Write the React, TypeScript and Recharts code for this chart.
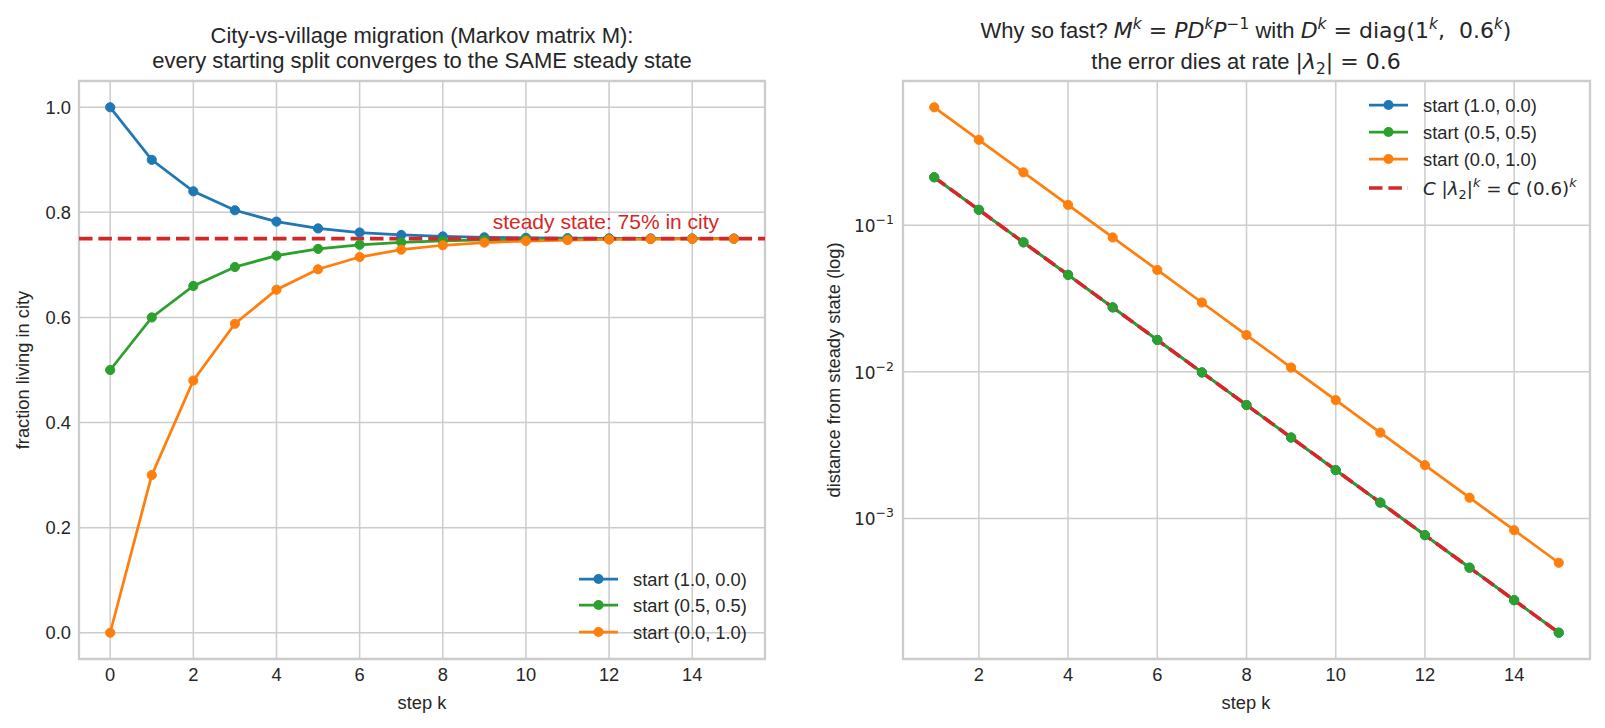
import React from "react";
import { LineChart, Line, XAxis, YAxis, CartesianGrid, ReferenceLine, ReferenceArea, ReferenceDot } from "recharts";

// step index k
const steps = [0, 1, 2, 3, 4, 5, 6, 7, 8, 9, 10, 11, 12, 13, 14, 15];

// share of population living in the city, per starting split
const fromCity = [1.0, 0.9, 0.84, 0.804, 0.7824, 0.76944, 0.761664, 0.756998, 0.754199, 0.752519, 0.751512, 0.750907, 0.750544, 0.750327, 0.750196, 0.750118];
const evenSplit = [0.5, 0.6, 0.66, 0.696, 0.7176, 0.73056, 0.738336, 0.743002, 0.745801, 0.747481, 0.748488, 0.749093, 0.749456, 0.749673, 0.749804, 0.749882];
const fromVillage = [0.0, 0.3, 0.48, 0.588, 0.6528, 0.69168, 0.715008, 0.729005, 0.737403, 0.742442, 0.745465, 0.747279, 0.748367, 0.74902, 0.749412, 0.749647];
const steadyShare = 0.75;

// distance from the steady state, k = 1..15
const errSteps = [1, 2, 3, 4, 5, 6, 7, 8, 9, 10, 11, 12, 13, 14, 15];
const errCity = [0.212132, 0.127279, 0.0763675, 0.0458205, 0.0274923, 0.0164954, 0.00989723, 0.00593834, 0.003563, 0.0021378, 0.00128268, 0.000769608, 0.000461765, 0.000277059, 0.000166235];
const errEven = [0.212132, 0.127279, 0.0763675, 0.0458205, 0.0274923, 0.0164954, 0.00989723, 0.00593834, 0.003563, 0.0021378, 0.00128268, 0.000769608, 0.000461765, 0.000277059, 0.000166235];
const errVillage = [0.636396, 0.381838, 0.229103, 0.137462, 0.082477, 0.0494862, 0.0296917, 0.017815, 0.010689, 0.0064134, 0.00384804, 0.00230882, 0.00138529, 0.000831177, 0.000498706];
const errRate = [0.212132, 0.127279, 0.0763675, 0.0458205, 0.0274923, 0.0164954, 0.00989723, 0.00593834, 0.003563, 0.0021378, 0.00128268, 0.000769608, 0.000461765, 0.000277059, 0.000166235];

const leftXTicks = [0, 2, 4, 6, 8, 10, 12, 14];
const leftYTicks = [0, 0.2, 0.4, 0.6, 0.8, 1.0];
const rightXTicks = [2, 4, 6, 8, 10, 12, 14];
const rightYTicks = [0.1, 0.01, 0.001];

const legendLabels = ["start (1.0, 0.0)", "start (0.5, 0.5)", "start (0.0, 1.0)"];

const BLUE = "#1f77b4";
const GREEN = "#2ca02c";
const ORANGE = "#ff7f0e";
const RED = "#d62728";
const GRID = "#cccccc";
const INK = "#262626";
const SANS = "'Liberation Sans', Arial, sans-serif";
const MATH = "'DejaVu Sans', sans-serif";
const FS = 18.3;

const leftData = steps.map((k, i) => ({ k, a: fromCity[i], b: evenSplit[i], c: fromVillage[i] }));
const rightData = errSteps.map((k, i) => ({ k, a: errCity[i], b: errEven[i], c: errVillage[i], r: errRate[i] }));

const tickStyle = { fill: INK, fontSize: FS, fontFamily: SANS };
const dotFor = (c: string) => ({ r: 4.6, fill: c, stroke: c, strokeWidth: 1 });

const PowTick = ({ x, y, payload }: any) => {
  const e = Math.round(Math.log10(payload.value));
  return (
    <text x={x} y={y + 7} textAnchor="end" fill={INK} fontFamily={MATH} fontSize={17}>
      <tspan>10</tspan>
      <tspan fontSize={12.5} dy={-8}>{"\u2212" + Math.abs(e)}</tspan>
    </text>
  );
};

const SteadyLabel = ({ viewBox }: any) => (
  <text x={viewBox.x} y={viewBox.y} fill={RED} fontSize={21} fontFamily={SANS}>
    steady state: 75% in city
  </text>
);

const LegendRow = ({ y, color, label, dashed }: { y: number; color: string; label: React.ReactNode; dashed?: boolean }) => (
  <g transform={`translate(0, ${y})`}>
    {dashed ? (
      <line x1={0} x2={39} y1={0} y2={0} stroke={color} strokeWidth={3.6} strokeDasharray="13.5 5.9" />
    ) : (
      <>
        <line x1={0} x2={39} y1={0} y2={0} stroke={color} strokeWidth={2.75} />
        <circle cx={19.5} cy={0} r={5} fill={color} />
      </>
    )}
    <text x={54} y={6.5} fill={INK} fontSize={FS} fontFamily={SANS}>
      {label}
    </text>
  </g>
);

const it = { fontFamily: MATH, fontStyle: "italic" } as const;
const up = { fontFamily: MATH, fontStyle: "normal" } as const;

const Annotations = () => (
  <svg width={1605} height={728} style={{ position: "absolute", left: 0, top: 0, pointerEvents: "none" }}>
    {/* left panel titles and labels */}
    <text x={422} y={42.5} textAnchor="middle" fill={INK} fontSize={22} fontFamily={SANS}>
      City-vs-village migration (Markov matrix M):
    </text>
    <text x={422} y={68} textAnchor="middle" fill={INK} fontSize={22} fontFamily={SANS}>
      every starting split converges to the SAME steady state
    </text>
    <text x={422} y={709} textAnchor="middle" fill={INK} fontSize={FS} fontFamily={SANS}>
      step k
    </text>
    <text x={28.5} y={370} textAnchor="middle" fill={INK} fontSize={FS} fontFamily={SANS} transform="rotate(-90 28.5 370)">
      fraction living in city
    </text>

    {/* right panel titles and labels */}
    <text x={1246} y={38} textAnchor="middle" fill={INK} fontSize={22} fontFamily={SANS} style={{ whiteSpace: "pre" }}>
      <tspan>Why so fast? </tspan>
      <tspan style={it}>M</tspan>
      <tspan style={it} fontSize={15.4} dy={-9}>k</tspan>
      <tspan style={up} dy={9}> = </tspan>
      <tspan style={it}>PD</tspan>
      <tspan style={it} fontSize={15.4} dy={-9}>k</tspan>
      <tspan style={it} dy={9}>P</tspan>
      <tspan style={up} fontSize={15.4} dy={-9}>{"\u22121"}</tspan>
      <tspan dy={9}> with </tspan>
      <tspan style={it}>D</tspan>
      <tspan style={it} fontSize={15.4} dy={-9}>k</tspan>
      <tspan style={up} dy={9}> = diag(1</tspan>
      <tspan style={it} fontSize={15.4} dy={-9}>k</tspan>
      <tspan style={up} dy={9}>,  0.6</tspan>
      <tspan style={it} fontSize={15.4} dy={-9}>k</tspan>
      <tspan style={up} dy={9}>)</tspan>
    </text>
    <text x={1246} y={69} textAnchor="middle" fill={INK} fontSize={22} fontFamily={SANS} style={{ whiteSpace: "pre" }}>
      <tspan>the error dies at rate </tspan>
      <tspan style={up}>|</tspan>
      <tspan style={it}>λ</tspan>
      <tspan style={up} fontSize={15.4} dy={5}>2</tspan>
      <tspan style={up} dy={-5}>| = 0.6</tspan>
    </text>
    <text x={1246} y={709} textAnchor="middle" fill={INK} fontSize={FS} fontFamily={SANS}>
      step k
    </text>
    <text x={840} y={370} textAnchor="middle" fill={INK} fontSize={FS} fontFamily={SANS} transform="rotate(-90 840 370)">
      distance from steady state (log)
    </text>

    {/* left legend */}
    <g transform="translate(579, 0)">
      <LegendRow y={579} color={BLUE} label={legendLabels[0]} />
      <LegendRow y={605} color={GREEN} label={legendLabels[1]} />
      <LegendRow y={632} color={ORANGE} label={legendLabels[2]} />
    </g>

    {/* right legend */}
    <g transform="translate(1369, 0)">
      <LegendRow y={105} color={BLUE} label={legendLabels[0]} />
      <LegendRow y={132} color={GREEN} label={legendLabels[1]} />
      <LegendRow y={159} color={ORANGE} label={legendLabels[2]} />
      <LegendRow
        y={188}
        color={RED}
        dashed
        label={
          <tspan style={{ whiteSpace: "pre" }}>
            <tspan style={it}>C </tspan>
            <tspan style={up}>|</tspan>
            <tspan style={it}>λ</tspan>
            <tspan style={up} fontSize={12.8} dy={4}>2</tspan>
            <tspan style={up} dy={-4}>|</tspan>
            <tspan style={it} fontSize={12.8} dy={-8}>k</tspan>
            <tspan style={up} dy={8}> = </tspan>
            <tspan style={it}>C </tspan>
            <tspan style={up}>(0.6)</tspan>
            <tspan style={it} fontSize={12.8} dy={-8}>k</tspan>
          </tspan>
        }
      />
    </g>
  </svg>
);

const App = () => (
  <div style={{ position: "absolute", left: 0, top: 0, width: 1605, height: 728, background: "#ffffff" }}>
    <div style={{ position: "absolute", left: 0, top: 0 }}>
      <LineChart width={790} height={728} data={leftData} margin={{ top: 81, right: 25, bottom: 0, left: 0 }}>
        <CartesianGrid stroke={GRID} strokeWidth={1.5} />
        <XAxis
          dataKey="k"
          type="number"
          domain={[-0.75, 15.75]}
          ticks={leftXTicks}
          allowDataOverflow
          height={69}
          tick={tickStyle}
          tickLine={false}
          axisLine={false}
          tickSize={0}
          tickMargin={9}
        />
        <YAxis
          type="number"
          domain={[-0.05, 1.05]}
          ticks={leftYTicks}
          allowDataOverflow
          width={79}
          tick={tickStyle}
          tickFormatter={(v: number) => v.toFixed(1)}
          tickLine={false}
          axisLine={false}
          tickSize={0}
          tickMargin={8}
        />
        <ReferenceArea x1={-0.75} x2={15.75} y1={-0.05} y2={1.05} fill="none" stroke={GRID} strokeWidth={2.3} ifOverflow="visible" />
        <Line dataKey="a" stroke={BLUE} strokeWidth={2.75} dot={dotFor(BLUE)} activeDot={false} isAnimationActive={false} />
        <Line dataKey="b" stroke={GREEN} strokeWidth={2.75} dot={dotFor(GREEN)} activeDot={false} isAnimationActive={false} />
        <Line dataKey="c" stroke={ORANGE} strokeWidth={2.75} dot={dotFor(ORANGE)} activeDot={false} isAnimationActive={false} />
        <ReferenceLine y={steadyShare} stroke={RED} strokeWidth={3.6} strokeDasharray="13.5 5.9" ifOverflow="visible" />
        <ReferenceDot x={9.2} y={0.769} r={0} fill="none" stroke="none" ifOverflow="visible" label={SteadyLabel} />
      </LineChart>
    </div>
    <div style={{ position: "absolute", left: 790, top: 0 }}>
      <LineChart width={815} height={728} data={rightData} margin={{ top: 81, right: 15, bottom: 0, left: 0 }}>
        <CartesianGrid stroke={GRID} strokeWidth={1.5} />
        <XAxis
          dataKey="k"
          type="number"
          domain={[0.3, 15.7]}
          ticks={rightXTicks}
          allowDataOverflow
          height={69}
          tick={tickStyle}
          tickLine={false}
          axisLine={false}
          tickSize={0}
          tickMargin={9}
        />
        <YAxis
          type="number"
          scale="log"
          domain={[1.1e-4, 0.962]}
          ticks={rightYTicks}
          allowDataOverflow
          width={113}
          tick={<PowTick />}
          tickLine={false}
          axisLine={false}
          tickSize={0}
          tickMargin={9}
        />
        <ReferenceArea x1={0.3} x2={15.7} y1={1.1e-4} y2={0.962} fill="none" stroke={GRID} strokeWidth={2.3} ifOverflow="visible" />
        <Line dataKey="a" stroke={BLUE} strokeWidth={2.75} dot={dotFor(BLUE)} activeDot={false} isAnimationActive={false} />
        <Line dataKey="b" stroke={GREEN} strokeWidth={2.75} dot={dotFor(GREEN)} activeDot={false} isAnimationActive={false} />
        <Line dataKey="c" stroke={ORANGE} strokeWidth={2.75} dot={dotFor(ORANGE)} activeDot={false} isAnimationActive={false} />
        <Line dataKey="r" stroke={RED} strokeWidth={3.6} strokeDasharray="13.5 5.9" dot={false} activeDot={false} isAnimationActive={false} />
      </LineChart>
    </div>
    <Annotations />
  </div>
);

export default App;
